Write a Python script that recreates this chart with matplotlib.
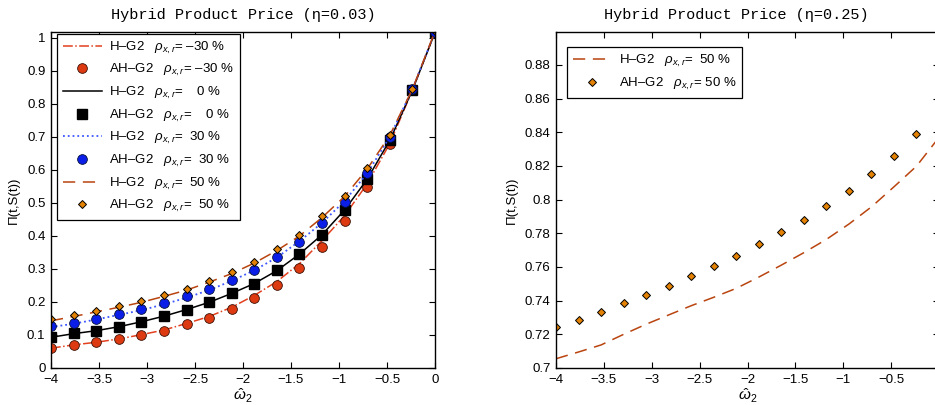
import numpy as np
import matplotlib
matplotlib.use('Agg')
import matplotlib.pyplot as plt

plt.rcParams['font.family'] = ['Liberation Sans', 'DejaVu Sans']
plt.rcParams['mathtext.fontset'] = 'custom'
plt.rcParams['mathtext.rm'] = 'Liberation Sans'
plt.rcParams['mathtext.it'] = 'Liberation Sans:italic'

# strike grid omega_2
w2 = [-4.0, -3.765, -3.529, -3.294, -3.059, -2.824, -2.588, -2.353, -2.118,
      -1.882, -1.647, -1.412, -1.176, -0.941, -0.706, -0.471, -0.235, 0.0]

# eta = 0.03, H-G2 (lines)
hg2_m30 = [0.060, 0.070, 0.078, 0.088, 0.101, 0.115, 0.135, 0.156, 0.184,
           0.220, 0.262, 0.316, 0.386, 0.462, 0.558, 0.680, 0.842, 1.018]
hg2_0 = [0.093, 0.104, 0.113, 0.125, 0.140, 0.157, 0.177, 0.199, 0.226,
         0.256, 0.295, 0.345, 0.404, 0.479, 0.572, 0.690, 0.842, 1.017]
hg2_30 = [0.124, 0.134, 0.147, 0.161, 0.175, 0.193, 0.213, 0.236, 0.264,
          0.296, 0.335, 0.384, 0.440, 0.506, 0.590, 0.700, 0.845, 1.018]
hg2_50 = [0.143, 0.156, 0.170, 0.184, 0.199, 0.217, 0.236, 0.260, 0.286,
          0.318, 0.356, 0.400, 0.456, 0.520, 0.603, 0.705, 0.845, 1.020]

# eta = 0.03, AH-G2 (markers)
ahg2_m30 = [0.060, 0.071, 0.078, 0.087, 0.100, 0.113, 0.133, 0.152, 0.180,
            0.213, 0.252, 0.302, 0.366, 0.445, 0.548, 0.678, 0.843, 1.018]
ahg2_0 = [0.093, 0.105, 0.113, 0.125, 0.140, 0.157, 0.177, 0.199, 0.226,
          0.256, 0.297, 0.345, 0.404, 0.479, 0.572, 0.690, 0.842, 1.017]
ahg2_30 = [0.127, 0.136, 0.149, 0.164, 0.178, 0.196, 0.217, 0.239, 0.267,
           0.297, 0.335, 0.381, 0.438, 0.504, 0.590, 0.700, 0.845, 1.018]
ahg2_50 = [0.148, 0.161, 0.174, 0.188, 0.203, 0.221, 0.240, 0.265, 0.290,
           0.322, 0.360, 0.403, 0.460, 0.522, 0.605, 0.706, 0.845, 1.020]

# eta = 0.25, rho = 50 %
hg2_50_b = [0.7055, 0.7095, 0.7137, 0.7200, 0.7260, 0.7315, 0.7370, 0.7420, 0.7473,
            0.7540, 0.7611, 0.7685, 0.7764, 0.7855, 0.7957, 0.8076, 0.8199, 0.8370]
ahg2_50_b = [0.7242, 0.7287, 0.7332, 0.7384, 0.7435, 0.7488, 0.7546, 0.7605, 0.7665,
             0.7734, 0.7807, 0.7878, 0.7961, 0.8052, 0.8150, 0.8260, 0.8392, 0.8530]

xticks = [-4, -3.5, -3, -2.5, -2, -1.5, -1, -0.5, 0]
xticklabels = ['\u22124', '\u22123.5', '\u22123', '\u22122.5', '\u22122',
               '\u22121.5', '\u22121', '\u22120.5', '0']

C_RED = '#e2401e'
C_REDF = '#dd3a12'
C_BLUE = '#3b55ff'
C_BLUEF = '#0a1ee8'
C_ORL = '#b9440f'
C_ORF = '#e38205'


def lab(name, rho):
    return name + '   ' + r'$\rho_{x,r}$' + '= ' + rho + ' %'


def style_axes(ax):
    ax.tick_params(direction='in', top=True, right=True, length=4,
                   labelsize=9.5, width=0.8, pad=4)
    for s in ax.spines.values():
        s.set_linewidth(1.0)


fig = plt.figure(figsize=(9.35, 4.05), dpi=100)

# ---- left panel
ax1 = fig.add_axes([51 / 935, 37 / 405, 384 / 935, 336 / 405])
ax1.plot(w2, hg2_m30, '-.', color=C_RED, lw=1.1, label=lab('H\u2013G2', '\u201330'))
ax1.plot(w2, ahg2_m30, 'o', ls='none', mfc=C_REDF, mec='#3a1005', ms=7, mew=0.6,
         label=lab('AH\u2013G2', '\u201330'))
ax1.plot(w2, hg2_0, '-', color='k', lw=1.1, label=lab('H\u2013G2', '   0'))
ax1.plot(w2, ahg2_0, 's', ls='none', mfc='k', mec='k', ms=6.5,
         label=lab('AH\u2013G2', '   0'))
ax1.plot(w2, hg2_30, ':', color=C_BLUE, lw=1.3, label=lab('H\u2013G2', ' 30'))
ax1.plot(w2, ahg2_30, 'o', ls='none', mfc=C_BLUEF, mec='#05103a', ms=7, mew=0.6,
         label=lab('AH\u2013G2', ' 30'))
ax1.plot(w2, hg2_50, '--', color=C_ORL, lw=1.1, dashes=(8, 5), label=lab('H\u2013G2', ' 50'))
ax1.plot(w2, ahg2_50, 'D', ls='none', mfc=C_ORF, mec='k', ms=4.5, mew=0.7,
         label=lab('AH\u2013G2', ' 50'))
ax1.set_xlim(-4, 0)
ax1.set_ylim(0, 1.018)
ax1.set_xticks(xticks)
ax1.set_xticklabels(xticklabels)
ax1.set_yticks(np.arange(0, 1.01, 0.1))
ax1.set_yticklabels(['0', '0.1', '0.2', '0.3', '0.4', '0.5', '0.6', '0.7', '0.8', '0.9', '1'])
style_axes(ax1)
ax1.set_title('Hybrid Product Price (\u03b7=0.03)', family=['Liberation Mono', 'DejaVu Sans'],
              fontsize=11, pad=9)
ax1.set_ylabel('\u03a0(t,S(t))', fontsize=9.5, labelpad=5)
ax1.set_xlabel(r'$\hat{\omega}_2$', fontsize=11, labelpad=1)
leg1 = ax1.legend(loc='upper left', fontsize=9.5, frameon=True, fancybox=False,
                  edgecolor='k', framealpha=1, bbox_to_anchor=(0.015, 0.995),
                  borderaxespad=0.0, handlelength=3.0,
                  labelspacing=0.5, borderpad=0.45, handletextpad=0.5)
leg1.get_frame().set_linewidth(0.9)

# ---- right panel (axes runs past the right edge of the figure)
ax2 = fig.add_axes([556 / 935, 37 / 405, 383 / 935, 336 / 405])
ax2.plot(w2, hg2_50_b, '--', color=C_ORL, lw=1.1, dashes=(8, 5), label=lab('H\u2013G2', ' 50'))
ax2.plot(w2, ahg2_50_b, 'D', ls='none', mfc=C_ORF, mec='k', ms=4.5, mew=0.7,
         label=lab('AH\u2013G2', '50'))
ax2.set_xlim(-4, 0)
ax2.set_ylim(0.7, 0.8996)
ax2.set_xticks(xticks)
ax2.set_xticklabels(xticklabels[:-1] + [''])
ax2.set_yticks(np.arange(0.70, 0.881, 0.02))
ax2.set_yticklabels(['0.7', '0.72', '0.74', '0.76', '0.78', '0.8', '0.82', '0.84', '0.86', '0.88'])
style_axes(ax2)
ax2.set_title('Hybrid Product Price (\u03b7=0.25)', family=['Liberation Mono', 'DejaVu Sans'],
              fontsize=11, pad=9, x=0.47)
ax2.set_ylabel('\u03a0(t,S(t))', fontsize=9.5, labelpad=5)
ax2.set_xlabel(r'$\hat{\omega}_2$', fontsize=11, labelpad=1)
leg2 = ax2.legend(loc='upper left', fontsize=9.5, frameon=True, fancybox=False,
                  edgecolor='k', framealpha=1, bbox_to_anchor=(0.028, 0.955),
                  borderaxespad=0.0, handlelength=3.0, labelspacing=0.5,
                  borderpad=0.45, handletextpad=0.5)
leg2.get_frame().set_linewidth(0.9)

fig.savefig('out.png', dpi=100)
